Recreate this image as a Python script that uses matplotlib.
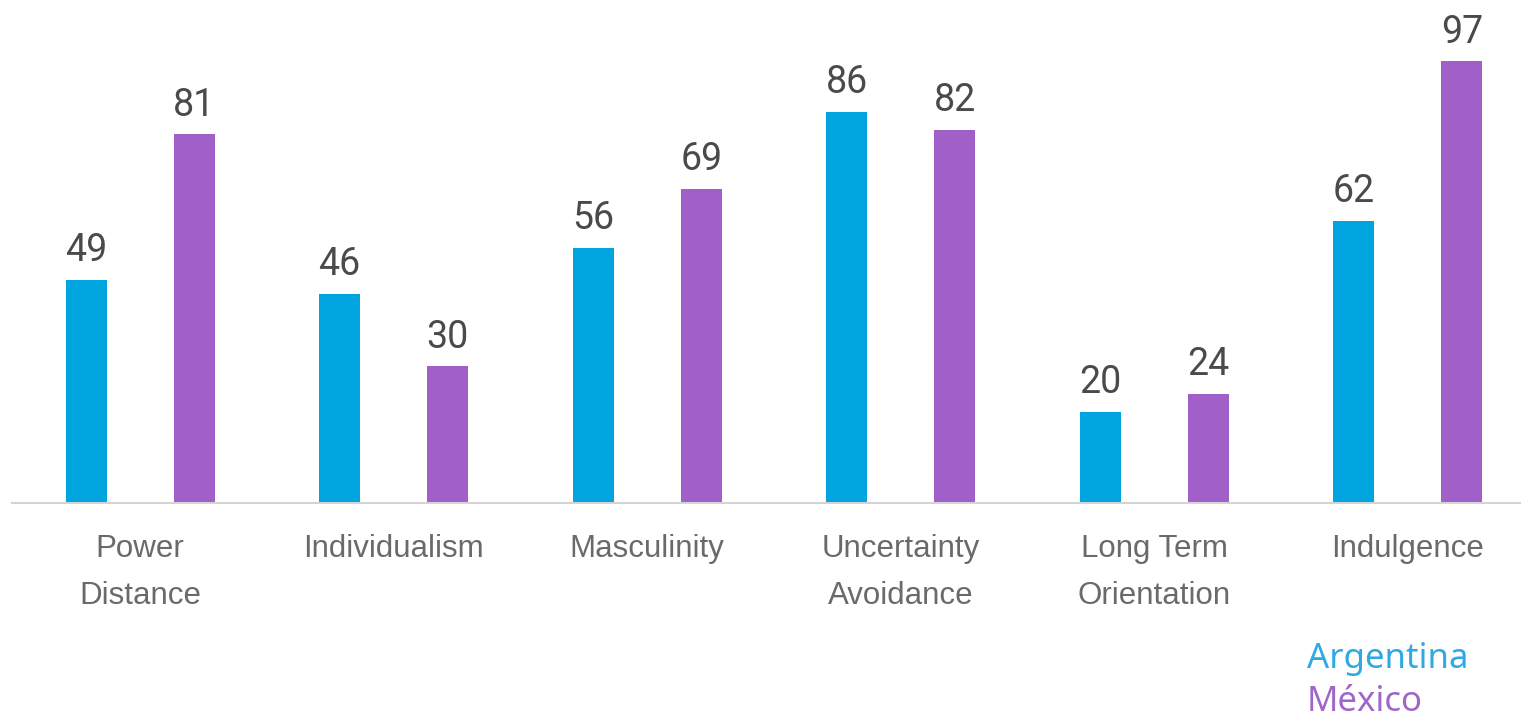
import numpy as np
from matplotlib import pyplot as plt

# Hofstede dimensions: Argentina vs México
categories = ['Power\nDistance', 'Individualism', 'Masculinity',
              'Uncertainty\nAvoidance', 'Long Term\nOrientation', 'Indulgence']
argentina = [49, 46, 56, 86, 20, 62]
mexico = [81, 30, 69, 82, 24, 97]

c_arg = '#00a5df'
c_mex = '#a15fc9'

fig = plt.figure(figsize=(15.21, 7.17), dpi=100)
ax = fig.add_axes([12 / 1521, (717 - 503) / 717, 1 - 12 / 1521, 503 / 717])

x = np.arange(len(categories))
w = 0.162
off = 0.213
b1 = ax.bar(x - off, argentina, w, color=c_arg)
b2 = ax.bar(x + off, mexico, w, color=c_mex)

# value labels above bars
for bars in (b1, b2):
    for rect in bars:
        h = rect.get_height()
        ax.annotate(str(int(h)), (rect.get_x() + rect.get_width() / 2, h),
                    xytext=(0, 13.5), textcoords='offset points',
                    ha='center', va='baseline', fontsize=27,
                    family=['Roboto', 'DejaVu Sans'], fontweight='normal',
                    color='#4a4a4a')

ax.set_xlim(-0.505, 5.446)
ax.set_ylim(0, 110.5)
ax.set_xticks(x)
ax.set_xticklabels(categories, fontsize=22.5, color='#6a6a6a',
                   family=['Liberation Sans', 'DejaVu Sans'], linespacing=1.75)
ax.tick_params(axis='x', length=0, pad=22)
ax.set_yticks([])
for s in ['top', 'left', 'right']:
    ax.spines[s].set_visible(False)
ax.spines['bottom'].set_color('#d4d4d4')
ax.spines['bottom'].set_linewidth(1.5)

# legend as coloured text
fig.text(1307 / 1521, 1 - 668 / 717, 'Argentina', color='#2ea9e1',
         fontsize=25, family=['Noto Sans', 'DejaVu Sans'], va='baseline')
fig.text(1307 / 1521, 1 - 711 / 717, 'México', color='#a066c8',
         fontsize=25, family=['Noto Sans', 'DejaVu Sans'], va='baseline')

plt.savefig('out.png', dpi=100)
